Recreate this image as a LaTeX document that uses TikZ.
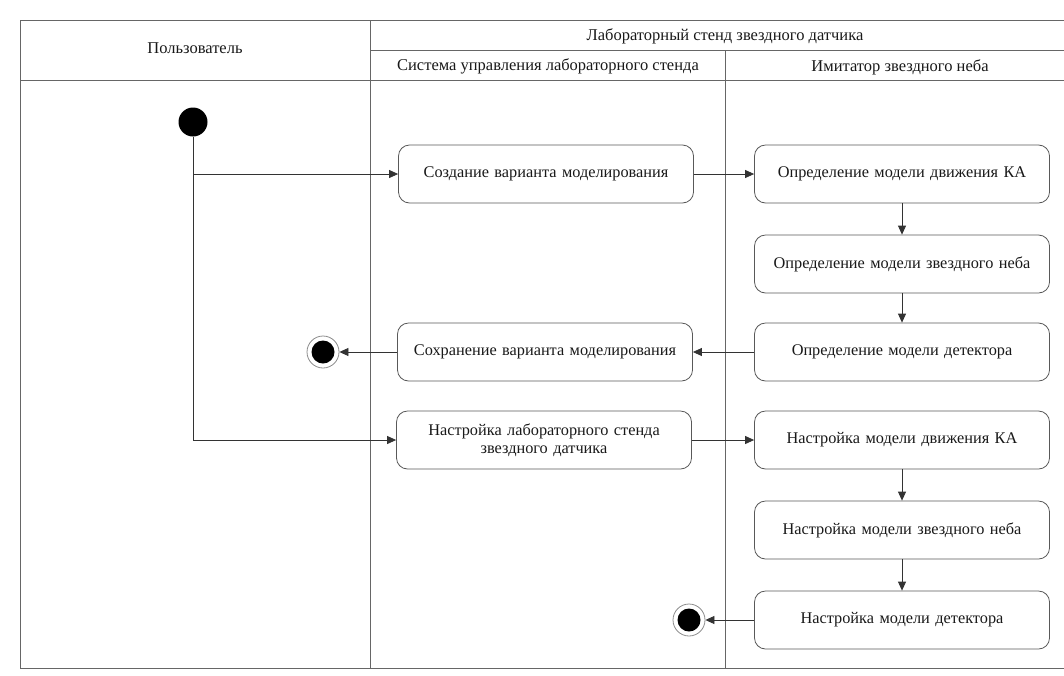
\documentclass[tikz,border=0pt]{standalone}
\usepackage{fontspec}
\setmainfont{Liberation Serif}
\usetikzlibrary{arrows.meta}
\begin{document}
\begin{tikzpicture}[x=1pt,y=-1pt,
  lane/.style={draw=black!60, line width=0.9pt},
  act/.style={draw=black!65, line width=0.8pt, rounded corners=11pt,
    minimum width=295pt, minimum height=58pt, text width=285pt, align=center,
    font=\fontsize{16.3}{18}\selectfont, text=black!90},
  head/.style={font=\fontsize{16.5}{18}\selectfont, text=black!90},
  flow/.style={draw=black!80, line width=0.8pt, -{Triangle[length=9pt,width=8pt]}},
  startnode/.style={circle, fill=black, minimum size=29pt, inner sep=0pt},
  endnode/.style={circle, draw=black!45, line width=0.8pt, minimum size=32pt, inner sep=0pt,
    path picture={\fill[black] (path picture bounding box.center) circle (11.5pt);}}
]
\useasboundingbox (0,0) rectangle (1064,675);
\fill[white] (0,0) rectangle (1064,675);
\clip (0,0) rectangle (1064,675);

% swimlane frame
\draw[lane] (20,20) -- (1080,20);
\draw[lane] (20,20) -- (20,668) -- (1080,668);
\draw[lane] (370,50) -- (1080,50);
\draw[lane] (20,80) -- (1080,80);
\draw[lane] (370,20) -- (370,668);
\draw[lane] (725,50) -- (725,668);

% lane titles
\node[head] (hUser) at (195,48) {Пользователь};
\node[head] (hStand) at (725,36) {Лабораторный стенд звездного датчика};
\node[head] (hCtrl) at (548,66) {Система управления лабораторного стенда};
\node[head] (hSim) at (900,67) {Имитатор звездного неба};

% actions
\node[act] (a1) at (546,174) {Создание варианта моделирования};
\node[act] (a2) at (545,352) {Сохранение варианта моделирования};
\node[act] (a3) at (544,440) {Настройка лабораторного стенда\\звездного датчика};

\node[act] (b1) at (902,174) {Определение модели движения КА};
\node[act] (b2) at (902,264) {Определение модели звездного неба};
\node[act] (b3) at (902,352) {Определение модели детектора};

\node[act] (c1) at (902,440) {Настройка модели движения КА};
\node[act] (c2) at (902,530) {Настройка модели звездного неба};
\node[act] (c3) at (902,620) {Настройка модели детектора};

% initial and final nodes
\node[startnode] (init) at (193,122) {};
\node[endnode] (fin1) at (323,352) {};
\node[endnode] (fin2) at (689,620) {};

% control flows
\draw[flow] (init.south) |- (a1.west);
\draw[flow] (init.south) |- (a3.west);
\draw[flow] (a1) -- (b1);
\draw[flow] (b1) -- (b2);
\draw[flow] (b2) -- (b3);
\draw[flow] (b3) -- (a2);
\draw[flow] (a2) -- (fin1);
\draw[flow] (a3) -- (c1);
\draw[flow] (c1) -- (c2);
\draw[flow] (c2) -- (c3);
\draw[flow] (c3) -- (fin2);
\end{tikzpicture}
\end{document}
